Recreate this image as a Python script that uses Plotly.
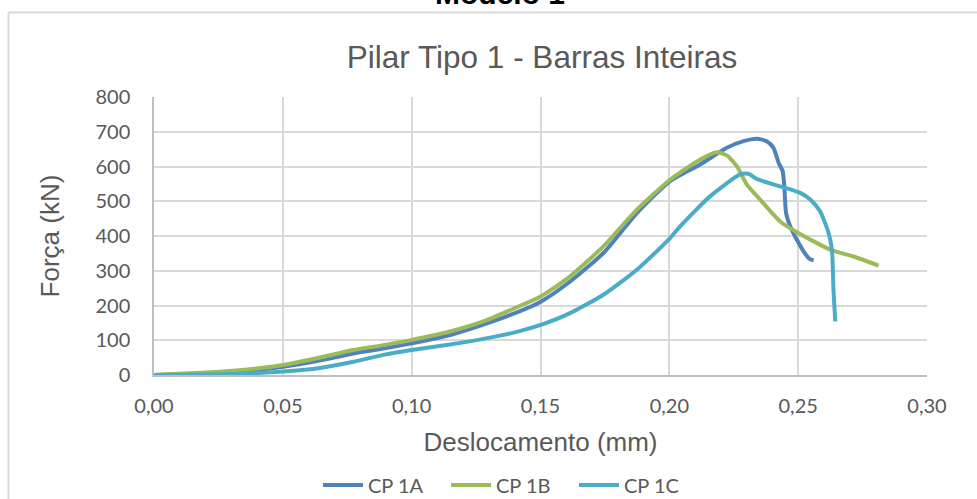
import plotly.graph_objects as go

# ---- data ----
x_1a = [0, 0.0308, 0.0502, 0.0632, 0.0774, 0.089, 0.100, 0.1149, 0.1278, 0.1408, 0.1501, 0.1615,
        0.1744, 0.1874, 0.2003, 0.212, 0.2223, 0.2288, 0.234, 0.2378, 0.2404, 0.2424, 0.244,
        0.2447, 0.2453, 0.2469, 0.2495, 0.2521, 0.2544, 0.256]
y_1a = [0, 8, 24, 40, 62, 76, 91, 115, 145, 180, 211, 269,
        351, 466, 558, 606, 654, 673, 680, 673, 654, 611, 586,
        534, 466, 428, 389, 356, 334, 330]

x_1b = [0, 0.0308, 0.0502, 0.0632, 0.0774, 0.089, 0.100, 0.1149, 0.1278, 0.1408, 0.1501, 0.1615,
        0.1744, 0.1874, 0.2003, 0.212, 0.2184, 0.2223, 0.2262, 0.2301, 0.2352, 0.243, 0.2495,
        0.2624, 0.2715, 0.2812]
y_1b = [0, 12, 29, 48, 72, 86, 101, 125, 154, 195, 226, 284,
        370, 476, 562, 620, 641, 632, 601, 548, 505, 442, 411,
        361, 341, 315]

x_1c = [0, 0.0308, 0.0502, 0.0632, 0.0774, 0.089, 0.100, 0.1149, 0.1278, 0.1408, 0.1501,
        0.1615, 0.1744, 0.1874, 0.2003, 0.2042, 0.2158, 0.2275, 0.2307, 0.234, 0.243, 0.2508,
        0.2547, 0.2585, 0.2618, 0.2631, 0.2637, 0.2644]
y_1c = [0, 3, 10, 19, 38, 58, 72, 88, 104, 124, 144,
        178, 231, 303, 394, 428, 514, 577, 579, 564, 543, 524,
        505, 471, 409, 361, 245, 154]

series_names = ["CP 1A", "CP 1B", "CP 1C"]
series_colors = ["#4F81BD", "#9BBB59", "#4BACC6"]

x_ticks = [0, 0.05, 0.10, 0.15, 0.20, 0.25, 0.30]
y_ticks = [0, 100, 200, 300, 400, 500, 600, 700, 800]

chart_title = "Pilar Tipo 1 - Barras Inteiras"
outer_title = "Modelo 1"
x_title = "Deslocamento (mm)"
y_title = "Força (kN)"

# ---- figure ----
W, H = 977, 499
L, R, T, B = 154, 50, 97, 124
PW, PH = W - L - R, H - T - B

def px_x(p):
    return (p - L) / PW

def px_y(p):
    return (H - B - p) / PH

fig = go.Figure()
for xs, ys, name, col in zip([x_1a, x_1b, x_1c], [y_1a, y_1b, y_1c], series_names, series_colors):
    fig.add_trace(go.Scatter(x=xs, y=ys, mode="lines", name=name,
                             line=dict(color=col, width=4, shape="spline", smoothing=0.6)))

tick_font = dict(family="Lato, Carlito, sans-serif", size=20, color="#595959")
fig.update_layout(
    width=W, height=H,
    margin=dict(l=L, r=R, t=T, b=B, autoexpand=False),
    paper_bgcolor="white", plot_bgcolor="white",
    separators=",.",
    title=dict(text=chart_title, x=px_x(542), xanchor="center", xref="paper",
               y=1 - 57 / H, yanchor="middle",
               font=dict(family="Liberation Sans, Arial, sans-serif", size=31.5, color="#595959")),
    xaxis=dict(range=[0, 0.30], tickvals=x_ticks, tickformat=".2f",
               showgrid=True, gridcolor="#D9D9D9", gridwidth=1.5,
               showline=True, linecolor="#BFBFBF", linewidth=1.5,
               zeroline=False, ticks="", tickfont=tick_font, ticklabelstandoff=12,
               title=dict(text=x_title, standoff=17,
                          font=dict(family="Liberation Sans, Arial, sans-serif", size=26, color="#595959"))),
    yaxis=dict(range=[0, 800], tickvals=y_ticks,
               showgrid=True, gridcolor="#D9D9D9", gridwidth=1.5,
               showline=True, linecolor="#BFBFBF", linewidth=1.5,
               zeroline=False, ticks="", tickfont=tick_font, ticklabelstandoff=18,
               title=dict(text=y_title, standoff=28,
                          font=dict(family="Liberation Sans, Arial, sans-serif", size=26, color="#595959"))),
    legend=dict(orientation="h", x=px_x(318), xanchor="left", y=px_y(485), yanchor="middle",
                font=tick_font, itemwidth=40, entrywidth=73, entrywidthmode="pixels",
                bgcolor="rgba(0,0,0,0)"),
    showlegend=True,
)

# outer chart border (left and top edges visible in the crop)
fig.add_shape(type="line", xref="paper", yref="paper",
              x0=px_x(8.5), x1=px_x(990), y0=px_y(12.5), y1=px_y(12.5),
              line=dict(color="#D9D9D9", width=2), layer="below")
fig.add_shape(type="line", xref="paper", yref="paper",
              x0=px_x(8.5), x1=px_x(8.5), y0=px_y(12.5), y1=px_y(520),
              line=dict(color="#D9D9D9", width=2), layer="below")

# cropped outer title
fig.add_annotation(text="<b>" + outer_title + "</b>", xref="paper", yref="paper",
                   x=px_x(500), y=px_y(-7), xanchor="center", yanchor="middle",
                   showarrow=False,
                   font=dict(family="Liberation Sans, Arial, sans-serif", size=30, color="black"))

fig.write_html("out.html")
